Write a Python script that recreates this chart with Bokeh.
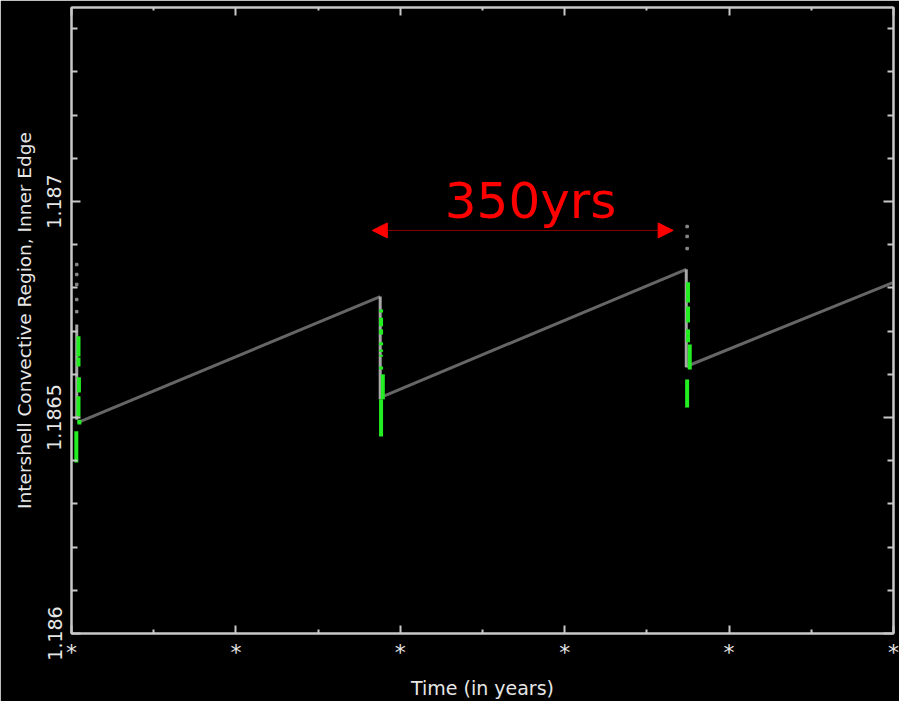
from bokeh.plotting import figure
from bokeh.models import (Range1d, LinearAxis, FixedTicker, CustomJSTickFormatter,
                          Arrow, NormalHead, Label)
from bokeh.embed import file_html
from bokeh.resources import INLINE

# ---------------- data (years, inner-edge mass coordinate) ----------------
# slow interpulse growth of the inner edge
seg_t0 = [7, 353, 703]
seg_t1 = [353, 703, 940]
seg_y0 = [1.186488, 1.186546, 1.186618]
seg_y1 = [1.186780, 1.186843, 1.186813]

pulse_times = [7, 353, 703]

# light-grey vertical columns at each pulse
col_t = [6, 353, 703]
col_top = [1.186715, 1.186780, 1.186843]
col_bot = [1.186495, 1.186542, 1.186616]

# sparse grey points above the columns
dot_t = [6, 6, 6, 6, 6, 704, 704, 704]
dot_y = [1.186854, 1.186831, 1.186808, 1.186773, 1.186745,
         1.186942, 1.186919, 1.186891]

# green (convective) pieces during the pulses
green_t = [8, 8, 8.5, 8, 9, 5.5,
           354, 354, 354, 354, 354, 354, 354, 356, 354,
           705, 705, 705, 707, 704]
green_top = [1.186688, 1.186639, 1.186593, 1.186549, 1.186495, 1.186468,
             1.186750, 1.186731, 1.186704, 1.186674, 1.186657, 1.186645, 1.186618, 1.186600, 1.186542,
             1.186813, 1.186757, 1.186704, 1.186669, 1.186588]
green_bot = [1.186641, 1.186618, 1.186558, 1.186502, 1.186484, 1.186396,
             1.186743, 1.186711, 1.186692, 1.186667, 1.186652, 1.186641, 1.186611, 1.186542, 1.186456,
             1.186766, 1.186720, 1.186674, 1.186611, 1.186523]

# axes
x_ticks = [0, 188, 376, 564, 752, 940]
x_minor = [94, 282, 470, 658, 846]
y_ticks = [1.186, 1.1865, 1.187]
y_tick_labels = ["1.186", "1.1865", "1.187"]
y_minor = [1.1861, 1.1862, 1.1863, 1.1864, 1.1866, 1.1867, 1.1868, 1.1869,
           1.1871, 1.1872, 1.1873, 1.1874]

# annotation
annot_text = "350yrs"
annot_y = 1.187000
arrow_y = 1.186933
arrow_t0 = 344
arrow_t1 = 688

FG = "#c8c8c8"
TXT = "#e6e6e6"
FONT = "DejaVu Sans"

p = figure(frame_width=822, frame_height=626,
           x_range=Range1d(0, 940), y_range=Range1d(1.186, 1.187449),
           output_backend="svg", toolbar_location=None,
           min_border_left=71, min_border_top=7, min_border_right=6, min_border_bottom=0,
           background_fill_color="black", border_fill_color="black")
p.grid.visible = False
p.outline_line_color = FG
p.outline_line_width = 2

p.segment(x0=seg_t0, y0=seg_y0, x1=seg_t1, y1=seg_y1, line_color="#666666", line_width=3)
p.segment(x0=col_t, y0=col_bot, x1=col_t, y1=col_top, line_color="#a8a8a8", line_width=3)
p.scatter(x=dot_t, y=dot_y, size=2.5, color="#8a8a8a", marker="square")
p.segment(x0=green_t, y0=green_bot, x1=green_t, y1=green_top, line_color="#22ee22", line_width=4)

# annotation
head_l = NormalHead(size=15, fill_color="#ff0000", line_color="#ff0000", line_width=1)
head_r = NormalHead(size=15, fill_color="#ff0000", line_color="#ff0000", line_width=1)
p.add_layout(Arrow(start=head_l, end=head_r, x_start=arrow_t0, x_end=arrow_t1,
                   y_start=arrow_y, y_end=arrow_y, line_color="#8b0000", line_width=1))
p.add_layout(Label(x=(pulse_times[1] + pulse_times[2]) / 2 - 3, y=annot_y, text=annot_text,
                   text_color="#ff0000", text_font=FONT, text_font_size="50px",
                   text_align="center", text_baseline="alphabetic"))

# bottom axis
xt = FixedTicker(ticks=x_ticks, minor_ticks=x_minor)
ax = p.xaxis[0]
ax.ticker = xt
ax.formatter = CustomJSTickFormatter(code="return '*'")
ax.axis_label = "Time (in years)"
ax.axis_label_text_font = FONT
ax.axis_label_text_font_size = "19px"
ax.axis_label_text_font_style = "normal"
ax.axis_label_text_color = TXT
ax.axis_label_standoff = 9
ax.major_label_text_font = FONT
ax.major_label_text_font_size = "22px"
ax.major_label_text_color = TXT
ax.major_label_standoff = 6

# left axis
yt = FixedTicker(ticks=y_ticks, minor_ticks=y_minor)
ay = p.yaxis[0]
ay.ticker = yt
ay.formatter = CustomJSTickFormatter(args=dict(labels=y_tick_labels),
                                     code="return labels[index]")
ay.major_label_orientation = "vertical"
ay.axis_label = "Intershell Convective Region, Inner Edge"
ay.axis_label_text_font = FONT
ay.axis_label_text_font_size = "18.5px"
ay.axis_label_text_font_style = "normal"
ay.axis_label_text_color = TXT
ay.axis_label_standoff = 10
ay.major_label_text_font = FONT
ay.major_label_text_font_size = "19px"
ay.major_label_text_color = TXT
ay.major_label_standoff = 10

for axis in (ax, ay):
    axis.axis_line_color = FG
    axis.axis_line_width = 2
    axis.major_tick_line_color = FG
    axis.minor_tick_line_color = FG
    axis.major_tick_line_width = 2
    axis.minor_tick_line_width = 2
    axis.major_tick_out = 0
    axis.minor_tick_out = 0
ax.major_tick_in = 8
ax.minor_tick_in = 4
ay.major_tick_in = 9
ay.minor_tick_in = 6

# right and top axes (ticks only)
blank = CustomJSTickFormatter(code="return ''")
ar = LinearAxis(ticker=yt, formatter=blank, major_label_text_font_size="0px",
                major_label_standoff=0, major_tick_in=10, major_tick_out=0,
                minor_tick_in=6, minor_tick_out=0)
at = LinearAxis(ticker=xt, formatter=blank, major_label_text_font_size="0px",
                major_label_standoff=0, major_tick_in=8, major_tick_out=0,
                minor_tick_in=3, minor_tick_out=0)
for axis in (ar, at):
    axis.axis_line_color = FG
    axis.axis_line_width = 2
    axis.major_tick_line_color = FG
    axis.minor_tick_line_color = FG
    axis.major_tick_line_width = 2
    axis.minor_tick_line_width = 2
p.add_layout(ar, "right")
p.add_layout(at, "above")

open("out.html", "w").write(file_html(p, INLINE))
